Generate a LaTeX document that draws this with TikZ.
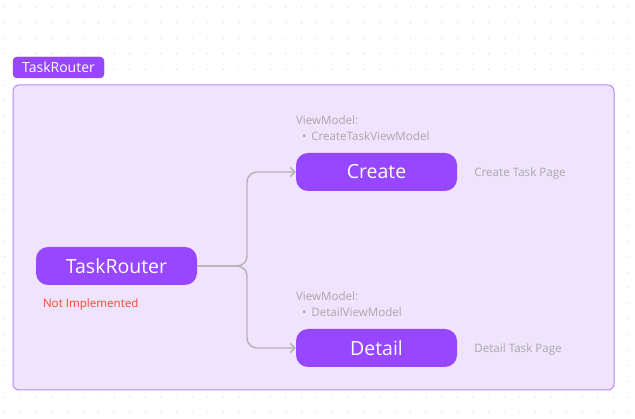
\documentclass[tikz,border=0pt]{standalone}
\usepackage{fontspec}
\setmainfont{Open Sans}
\usetikzlibrary{positioning,arrows.meta}

\definecolor{routerPurple}{HTML}{9747FF}
\definecolor{tagBorder}{HTML}{8A3CF2}
\definecolor{frameFill}{HTML}{F0E3FE}
\definecolor{frameBorder}{HTML}{B88BF7}
\definecolor{noteGray}{HTML}{A8A8A8}
\definecolor{linkGray}{HTML}{B3B3B3}
\definecolor{dotGray}{HTML}{CFCFCF}
\definecolor{warnRed}{HTML}{F44A26}

\begin{document}
\begin{tikzpicture}[x=1pt, y=-1pt,
        routebox/.style={fill=routerPurple, rounded corners=12pt, minimum width=161pt, minimum height=38pt, text=white, font=\fontsize{19.5}{23}\selectfont},
        note/.style={text=noteGray, font=\fontsize{11.6}{16}\selectfont, inner sep=0pt, align=left},
        link/.style={draw=linkGray, line width=1.4pt, rounded corners=10pt, -{Straight Barb[length=4.5pt, width=9pt]}}]
        \useasboundingbox (0,0) rectangle (635,419);
        \fill[white] (0,0) rectangle (635,419);
        \foreach \i in {0,...,40}
            \foreach \j in {0,...,26}
                \fill[dotGray] (5+15.6*\i, 7+15.6*\j) circle (0.6pt);

        \draw[draw=frameBorder, fill=frameFill, line width=1pt, rounded corners=6pt] (13,85) rectangle (614,390);
        \node[draw=tagBorder, fill=routerPurple, rounded corners=4pt, minimum width=91pt, minimum height=21pt, text=white, font=\fontsize{14}{16}\selectfont] (frameTag) at (58.5,67.5) {TaskRouter};

        \node[routebox] (TaskRouterNode) at (116.5,266) {TaskRouter};
        \node[routebox] (CreateNode) at (376.5,172) {Create};
        \node[routebox] (DetailNode) at (376.5,348) {Detail};

        \node[note, text=warnRed, below right=13pt and 7pt of TaskRouterNode.south west] (notImplemented) {Not Implemented};

        \node[note, above right=12pt and 0pt of CreateNode.north west] (createViewModel) {ViewModel:\\\hspace*{6pt}•\hspace{5pt}CreateTaskViewModel};
        \node[note, above right=12pt and 0pt of DetailNode.north west] (detailViewModel) {ViewModel:\\\hspace*{6pt}•\hspace{5pt}DetailViewModel};

        \node[note, right=17pt of CreateNode, yshift=-1.5pt] (createPage) {Create Task Page};
        \node[note, right=17pt of DetailNode, yshift=-1.5pt] (detailPage) {Detail Task Page};

        \coordinate (routerFork) at (247,266);
        \draw[link] (TaskRouterNode.east) -- (routerFork) |- (CreateNode.west);
        \draw[link] (TaskRouterNode.east) -- (routerFork) |- (DetailNode.west);
    \end{tikzpicture}
\end{document}
